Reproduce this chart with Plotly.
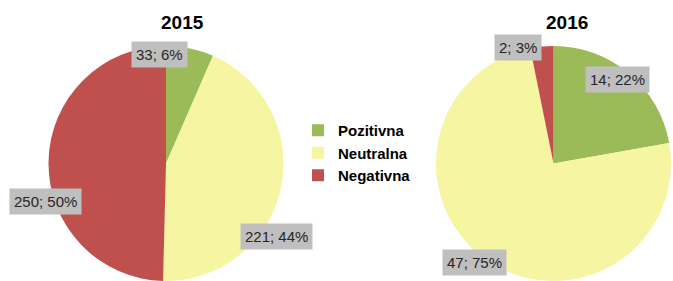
import plotly.graph_objects as go

categories = ["Pozitivna", "Neutralna", "Negativna"]
colors = ["#9BBB59", "#F6F5A2", "#C0504D"]

values_2015 = [33, 221, 250]
pct_2015 = [6, 44, 50]
values_2016 = [14, 47, 2]
pct_2016 = [22, 75, 3]
titles = ["2015", "2016"]

W, H = 673, 281

fig = go.Figure()

def px_x(x):
    return x / W

def px_y(y):
    return 1 - y / H

domains = [
    dict(x=[px_x(46), px_x(286)], y=[0, px_y(46)]),
    dict(x=[px_x(434), px_x(673)], y=[0, px_y(46)]),
]

for i, (vals, dom) in enumerate(zip([values_2015, values_2016], domains)):
    fig.add_trace(go.Pie(
        labels=categories,
        values=vals,
        sort=False,
        direction="clockwise",
        rotation=0,
        marker=dict(colors=colors, line=dict(width=0)),
        textinfo="none",
        hoverinfo="label+value+percent",
        domain=dom,
        showlegend=(i == 0),
    ))

# titles
title_pos = [(183, 23), (567, 23)]
for t, (x, y) in zip(titles, title_pos):
    fig.add_annotation(x=px_x(x), y=px_y(y), xref="paper", yref="paper",
                       xanchor="center", yanchor="middle",
                       text=f"<b>{t}</b>", showarrow=False,
                       font=dict(family="Liberation Sans, Arial", size=19, color="#000"))

# data labels (grey boxes)
label_pos_2015 = [(159, 54), (276, 236), (45, 201)]
label_pos_2016 = [(617, 79), (474, 262), (518, 47)]
for vals, pcts, poss in [(values_2015, pct_2015, label_pos_2015),
                         (values_2016, pct_2016, label_pos_2016)]:
    for v, p, (x, y) in zip(vals, pcts, poss):
        fig.add_annotation(x=px_x(x), y=px_y(y), xref="paper", yref="paper",
                           xanchor="center", yanchor="middle",
                           text=f"{v}; {p}%", showarrow=False,
                           bgcolor="#BFBFBF", borderpad=4,
                           font=dict(family="Liberation Sans, Arial", size=15, color="#262626"))

fig.update_layout(
    width=W, height=H,
    margin=dict(l=0, r=0, t=0, b=0, pad=0, autoexpand=False),
    paper_bgcolor="white",
    plot_bgcolor="white",
    legend=dict(
        x=px_x(298), y=px_y(114), xanchor="left", yanchor="top",
        font=dict(family="Liberation Sans, Arial", size=15, color="#000", weight="bold"),
        traceorder="normal",
        itemwidth=30,
        bgcolor="rgba(0,0,0,0)",
    ),
)

fig.write_html("out.html", config={"displayModeBar": False},
               post_script="document.body.style.margin='0';")
